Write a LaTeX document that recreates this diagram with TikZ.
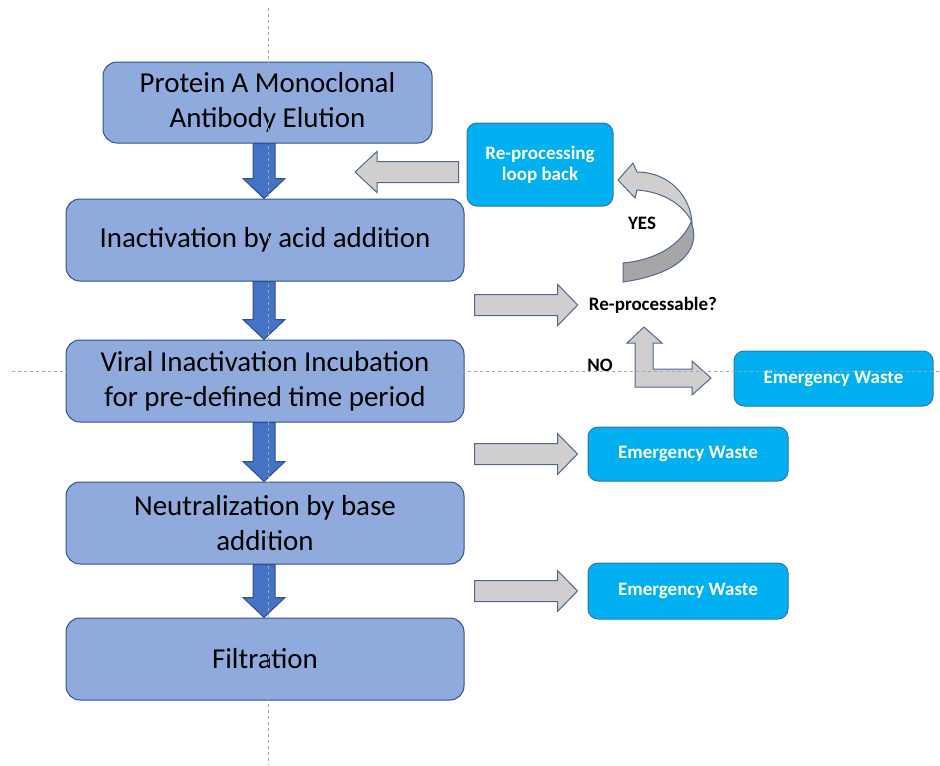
\documentclass[tikz,border=0pt]{standalone}
\usepackage{fontspec}
\setmainfont{Carlito}
\usetikzlibrary{calc}
\definecolor{boxfill}{HTML}{8FAADC}
\definecolor{boxborder}{HTML}{2F528F}
\definecolor{arrblue}{HTML}{4472C4}
\definecolor{cyanfill}{HTML}{00B0F0}
\definecolor{cyanborder}{HTML}{2E75B6}
\definecolor{arrgray}{HTML}{D0CECE}
\definecolor{arrdark}{HTML}{A6A6A6}
\definecolor{grayborder}{HTML}{51698F}
\definecolor{guidegray}{HTML}{A6A6A6}

\newcommand\vblockarrow[2]{%
  \filldraw[bluearr] let \p1=(#1.south), \p2=(#2.north) in
    (\x2-9pt,\y1) -- (\x2+7.5pt,\y1) -- (\x2+7.5pt,\y2+15pt) -- (\x2+15pt,\y2+15pt)
    -- (\x2-0.75pt,\y2) -- (\x2-16.5pt,\y2+15pt) -- (\x2-9pt,\y2+15pt) -- cycle;}
\newcommand\rblockarrow[2]{%
  \filldraw[grayarr] let \p1=#1, \p2=#2 in
    (\x1,\y2+7.875pt) -- (\x2-15pt,\y2+7.875pt) -- (\x2-15pt,\y2+15.375pt) -- (\x2,\y2)
    -- (\x2-15pt,\y2-15.375pt) -- (\x2-15pt,\y2-7.875pt) -- (\x1,\y2-7.875pt) -- cycle;}
\newcommand\lblockarrow[2]{%
  \filldraw[grayarr] let \p1=#1, \p2=#2 in
    (\x1,\y2+7.875pt) -- (\x2+16.5pt,\y2+7.875pt) -- (\x2+16.5pt,\y2+15.375pt) -- (\x2,\y2)
    -- (\x2+16.5pt,\y2-15.375pt) -- (\x2+16.5pt,\y2-7.875pt) -- (\x1,\y2-7.875pt) -- cycle;}

\begin{document}
\begin{tikzpicture}[x=0.75pt,y=-0.75pt,
  procbox/.style={draw=boxborder, fill=boxfill, line width=0.75pt, rounded corners=10.5pt,
    align=center, inner sep=0pt, font=\fontsize{21.7}{26.25}\selectfont},
  wastebox/.style={draw=cyanborder, fill=cyanfill, line width=0.75pt, rounded corners=7.5pt,
    align=center, inner sep=0pt, text=white, font=\bfseries\fontsize{14.25}{15.75}\selectfont},
  lbl/.style={inner sep=0pt, font=\bfseries\fontsize{14.25}{15.75}\selectfont},
  bluearr/.style={fill=arrblue, draw=boxborder, line width=0.75pt},
  grayarr/.style={fill=arrgray, draw=grayborder, line width=0.75pt},
  grayback/.style={fill=arrdark, draw=grayborder, line width=0.75pt},
  guide/.style={draw=guidegray, line width=0.75pt, dash pattern=on 2.25pt off 2.25pt}]
\useasboundingbox (0,0) rectangle (940,765);

% process boxes
\node[procbox, minimum width=329*0.75pt, minimum height=81*0.75pt] (b1) at (267.5,102.5)
  {Protein A Monoclonal\\Antibody Elution};
\node[procbox, minimum width=398*0.75pt, minimum height=82*0.75pt] (b2) at (265,240)
  {Inactivation by acid addition};
\node[procbox, minimum width=398*0.75pt, minimum height=82*0.75pt] (b3) at (265,381)
  {Viral Inactivation Incubation\\for pre-defined time period};
\node[procbox, minimum width=398*0.75pt, minimum height=82*0.75pt] (b4) at (265,523)
  {Neutralization by base\\addition};
\node[procbox, minimum width=398*0.75pt, minimum height=82*0.75pt] (b5) at (265,659)
  {Filtration};

% side boxes
\node[wastebox, minimum width=146*0.75pt, minimum height=83*0.75pt] (rl) at (540,164.5)
  {Re-processing\\loop back};
\node[wastebox, minimum width=199*0.75pt, minimum height=55*0.75pt] (ew1) at (833.5,378.5)
  {Emergency Waste};
\node[wastebox, minimum width=200*0.75pt, minimum height=54*0.75pt] (ew2) at (688,454)
  {Emergency Waste};
\node[wastebox, minimum width=200*0.75pt, minimum height=56*0.75pt] (ew3) at (688,591)
  {Emergency Waste};

% labels
\node[lbl] (rp) at (653,305) {Re-processable?};
\node[lbl] (yes) at (642,223) {YES};
\node[lbl] (no) at (600,365) {NO};

% blue down arrows
\vblockarrow{b1}{b2}
\vblockarrow{b2}{b3}
\vblockarrow{b3}{b4}
\vblockarrow{b4}{b5}

% gray arrows
\coordinate (backin) at (355,172);
\lblockarrow{([xshift=-6pt]rl.west)}{(backin)}
\rblockarrow{([xshift=7.5pt]b2.east)}{([xshift=-8.25pt]rp.west)}
\rblockarrow{([xshift=7.5pt]b3.east)}{([xshift=-7.5pt]ew2.west)}
\rblockarrow{([xshift=7.5pt]b4.east)}{([xshift=-7.5pt]ew3.west)}

% L-shaped arrow (NO)
\begin{scope}[shift={(rp.center)}]
\filldraw[grayarr] (-18,38) -- (-26,38) -- (-9,22) -- (9,38) -- (0,38) -- (0,64)
  -- (39,64) -- (39,56) -- (58,73) -- (39,90) -- (39,82) -- (-18,82) -- cycle;
\end{scope}

% curved arrow (YES)
\filldraw[grayback] (691,222) .. controls (701,245) and (686,273) .. (623,282)
  -- (623,263) .. controls (656,260) and (681,245) .. (691,222) -- cycle;
\filldraw[grayarr] (618,180) -- (633,163) -- (637,172) .. controls (668,172) and (690,195) .. (692,222)
  .. controls (684,206) and (665,192) .. (637,190) -- (635,198) -- cycle;

% guides
\draw[guide] (268,8) -- (268,765);
\draw[guide] (12,371) -- (940,371);
\end{tikzpicture}
\end{document}
